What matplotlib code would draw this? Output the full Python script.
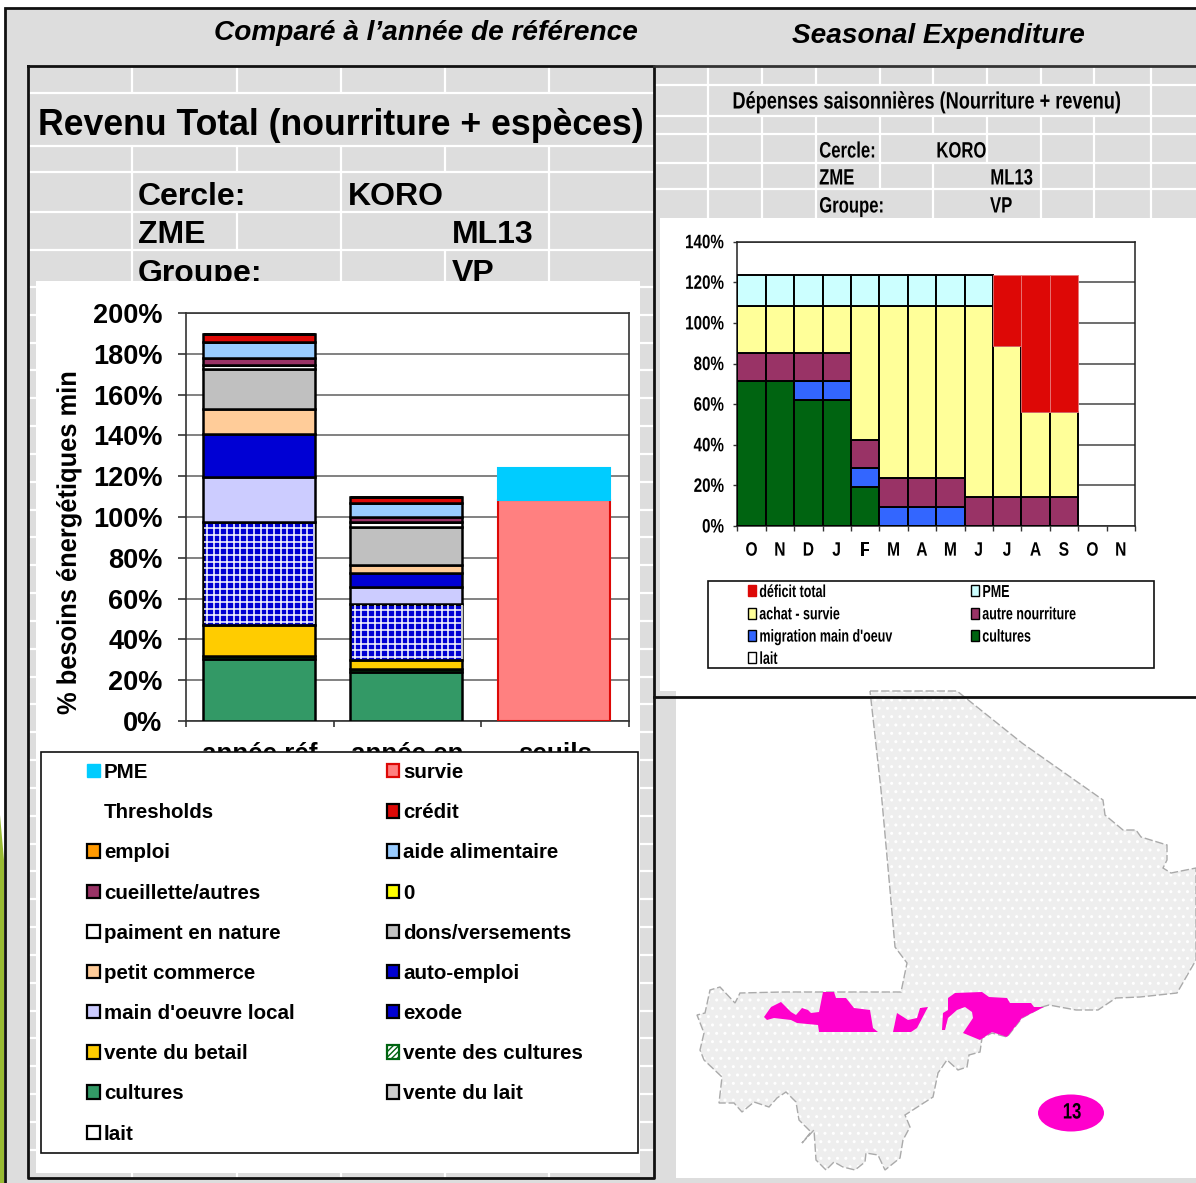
import matplotlib
matplotlib.use('Agg')
import matplotlib.pyplot as plt
import numpy as np
from matplotlib.patches import Polygon, Rectangle, Ellipse, Patch
from matplotlib.patheffects import AbstractPathEffect
from matplotlib.transforms import Affine2D

W, H = 1196, 1183
plt.rcParams['font.family'] = 'Liberation Sans'

# left chart
left_cats = ['année réf', 'année en', 'seuils']
left_series = ['lait', 'vente du lait', 'cultures', 'vente des cultures', 'vente du betail', 'exode',
               "main d'oeuvre local", 'auto-emploi', 'petit commerce', 'dons/versements',
               'paiment en nature', '0', 'cueillette/autres', 'aide alimentaire', 'emploi',
               'crédit', 'Thresholds', 'survie', 'PME']
left_vals = {
    'lait': [0, 0, 0],
    'vente du lait': [0, 0, 0],
    'cultures': [30.5, 24.0, 0],
    'vente des cultures': [1.2, 1.3, 0],
    'vente du betail': [15.3, 4.6, 0],
    'exode': [50.4, 27.5, 0],
    "main d'oeuvre local": [22.4, 8.5, 0],
    'auto-emploi': [20.9, 6.5, 0],
    'petit commerce': [12.1, 3.9, 0],
    'dons/versements': [19.6, 19.0, 0],
    'paiment en nature': [2.0, 2.1, 0],
    '0': [0, 0, 0],
    'cueillette/autres': [3.4, 2.4, 0],
    'aide alimentaire': [7.8, 6.9, 0],
    'emploi': [0, 0, 0],
    'crédit': [4.3, 2.9, 0],
    'Thresholds': [0, 0, 0],
    'survie': [0, 0, 108.3],
    'PME': [0, 0, 15.5],
}
left_colors = {
    'lait': '#FFFFFF', 'vente du lait': '#CCCCCC', 'cultures': '#339966', 'vente des cultures': '#006411',
    'vente du betail': '#FFCC00', 'exode': '#0000D4', "main d'oeuvre local": '#CCCCFF', 'auto-emploi': '#0000D4',
    'petit commerce': '#FFCC99', 'dons/versements': '#C0C0C0', 'paiment en nature': '#FFFFFF', '0': '#FFFF00',
    'cueillette/autres': '#993366', 'aide alimentaire': '#99CCFF', 'emploi': '#FF9900', 'crédit': '#DD0806',
    'Thresholds': 'none', 'survie': '#FF8080', 'PME': '#00CCFF',
}
left_legend_col1 = ['PME', 'Thresholds', 'emploi', 'cueillette/autres', 'paiment en nature', 'petit commerce',
                    "main d'oeuvre local", 'vente du betail', 'cultures', 'lait']
left_legend_col2 = ['survie', 'crédit', 'aide alimentaire', '0', 'dons/versements', 'auto-emploi', 'exode',
                    'vente des cultures', 'vente du lait']

# right chart
months = ['O', 'N', 'D', 'J', 'F', 'M', 'A', 'M', 'J', 'J', 'A', 'S', 'O', 'N']
r_cultures = [71.6, 71.6, 62, 62, 19, 0, 0, 0, 0, 0, 0, 0, 0, 0]
r_migration = [0, 0, 9.6, 9.6, 9.4, 9.5, 9.5, 9.5, 0, 0, 0, 0, 0, 0]
r_autre = [13.4, 13.4, 13.4, 13.4, 13.9, 14.3, 14.3, 14.3, 14.1, 14.1, 14.1, 14.1, 0, 0]
r_achat = [23.3, 23.3, 23.3, 23.3, 66.0, 84.5, 84.5, 84.5, 94.2, 74.5, 41.9, 41.9, 0, 0]
r_pme = [15.3, 15.3, 15.3, 15.3, 15.3, 15.3, 15.3, 15.3, 15.3, 0, 0, 0, 0, 0]
r_deficit = [0, 0, 0, 0, 0, 0, 0, 0, 0, 35.0, 67.6, 67.6, 0, 0]

# map outline, reference pixels
mali_x = [870, 957, 1022, 1103, 1105, 1123, 1136, 1141, 1167, 1167, 1163, 1171, 1196, 1196, 1177, 1140, 1116, 1098,
          1076, 1049, 1042, 1022, 1007, 992, 982, 980, 969, 967, 958, 947, 938, 933, 905, 910, 903, 900, 885, 878,
          866, 865, 855, 843, 834, 826, 816, 814, 802, 811, 799, 796, 786, 777, 769, 754, 742, 734, 719, 722, 704,
          700, 704, 697, 705, 710, 720, 735, 740, 782, 901, 907, 895, 890, 881]
mali_y = [691, 691, 743, 800, 815, 830, 830, 837, 845, 860, 868, 873, 868, 960, 993, 997, 998, 1010, 1010, 1005, 1007,
          1018, 1037, 1033, 1038, 1052, 1055, 1067, 1070, 1060, 1073, 1097, 1115, 1127, 1140, 1158, 1170, 1155, 1153,
          1162, 1170, 1167, 1162, 1170, 1160, 1130, 1143, 1132, 1120, 1102, 1092, 1098, 1107, 1102, 1112, 1103, 1103,
          1077, 1060, 1050, 1033, 1015, 1013, 990, 987, 1003, 993, 992, 992, 963, 947, 890, 790]
zone_a_x = [764, 771, 781, 791, 796, 802, 808, 811, 819, 823, 834, 836, 846, 854, 870, 873, 878, 819, 818, 797, 791, 774, 767]
zone_a_y = [1017, 1007, 1002, 1012, 1015, 1008, 1010, 1013, 1012, 992, 992, 998, 998, 1008, 1010, 1028, 1032, 1032, 1025, 1023, 1020, 1018, 1020]
zone_b_x = [893, 897, 908, 917, 920, 928, 917, 911]
zone_b_y = [1032, 1013, 1020, 1018, 1008, 1007, 1028, 1032]
zone_c_x = [942, 943, 948, 948, 955, 982, 989, 1007, 1010, 1031, 1034, 1044, 1022, 1007, 992, 980, 963, 973, 972, 965, 957, 948, 945]
zone_c_y = [1030, 1013, 1010, 998, 993, 992, 997, 998, 1003, 1003, 1007, 1007, 1018, 1037, 1032, 1040, 1033, 1018, 1012, 1007, 1010, 1018, 1030]


class Squeeze(AbstractPathEffect):
    # narrow the glyphs sideways, the reference text is a stretched picture
    def __init__(self, sx, anchor=0.0):
        super().__init__()
        self.sx = sx
        self.anchor = anchor

    def draw_path(self, renderer, gc, tpath, affine, rgbFace=None):
        e = tpath.get_extents()
        x0 = e.x0 + self.anchor * e.width
        t = Affine2D().translate(-x0, 0).scale(self.sx, 1).translate(x0, 0) + affine
        renderer.draw_path(gc, tpath, t, rgbFace)


fig = plt.figure(figsize=(W / 100, H / 100), dpi=100, facecolor='white')


def pixel_axes(z):
    a = fig.add_axes([0, 0, 1, 1], zorder=z)
    a.set_xlim(0, W)
    a.set_ylim(H, 0)
    a.axis('off')
    a.patch.set_alpha(0)
    return a


def chart_axes(x0, y0, x1, y1):
    return fig.add_axes([x0 / W, 1 - y1 / H, (x1 - x0) / W, (y1 - y0) / H], zorder=0)


bg = pixel_axes(-2)
GRAY = '#DDDDDD'
bg.add_patch(Polygon([(0, 815), (4, 860), (4, 1183), (0, 1183)], color='#99BB33', lw=0))
bg.add_patch(Rectangle((5, 8), W, H, fc=GRAY, ec='#111111', lw=2))


def hl(y, x0, x1):
    bg.plot([x0, x1], [y, y], color='white', lw=1.6, solid_capstyle='butt')


def vl(x, y0, y1):
    bg.plot([x, x], [y0, y1], color='white', lw=1.6, solid_capstyle='butt')


# left sheet cells
for y in [93, 146, 172, 212, 250]:
    hl(y, 28, 654)
for y in np.arange(287, 1160, 27.83):
    hl(y, 28, 654)
for x in [132, 237, 341, 445, 549]:
    vl(x, 66, 93)
    vl(x, 146, 172)
    vl(x, 1172, 1178)
vl(132, 172, 281)
vl(237, 212, 250)
vl(341, 172, 281)
vl(549, 172, 281)
vl(445, 250, 281)

# right sheet cells
for y in [85, 116, 134, 163, 189]:
    hl(y, 654, W)
for x in [708, 762, 816, 880, 933, 987, 1041, 1094, 1151]:
    vl(x, 66, 85)
    vl(x, 116, 134)
for x in [708, 1151]:
    vl(x, 85, 116)
for x in [708, 762, 816, 1041, 1094, 1151]:
    vl(x, 134, 218)
vl(880, 134, 189)
vl(987, 134, 163)
vl(933, 163, 218)

# white panels
bg.add_patch(Rectangle((36, 281), 604, 892, fc='white', ec='none', zorder=3))
bg.add_patch(Rectangle((660, 218), 536, 473, fc='white', ec='none', zorder=3))
bg.add_patch(Rectangle((676, 691), 520, 487, fc='white', ec='none', zorder=3))

# text on the sheets
bg.text(426, 33, 'Comparé à l’année de référence', fontsize=20.2, fontweight='bold', style='italic', ha='center', va='center')
bg.text(938, 36, 'Seasonal Expenditure', fontsize=20.2, fontweight='bold', style='italic', ha='center', va='center')
bg.text(341, 125, 'Revenu Total (nourriture + espèces)', fontsize=25.7, fontweight='bold', ha='center', va='center')
for t, x, y in [('Cercle:', 138, 197), ('KORO', 348, 197), ('ZME', 138, 235), ('ML13', 452, 235), ('Groupe:', 138, 274), ('VP', 452, 274)]:
    bg.text(x, y, t, fontsize=23, fontweight='bold', ha='left', va='center', zorder=2)
bg.text(927, 102, 'Dépenses saisonnières (Nourriture + revenu)', fontsize=17, fontweight='bold', ha='center', va='center',
        path_effects=[Squeeze(0.77, 0.5)])
for t, x, y in [('Cercle:', 819, 152), ('KORO', 936, 152), ('ZME', 819, 179), ('ML13', 990, 179), ('Groupe:', 819, 207), ('VP', 990, 207)]:
    bg.text(x, y, t, fontsize=16, fontweight='bold', ha='left', va='center', path_effects=[Squeeze(0.75)])

# map
mali_xy = np.column_stack([mali_x, mali_y])
bg.add_patch(Polygon(mali_xy, fc='#EEEEEE', ec='white', hatch='..', lw=0, zorder=4))
bg.add_patch(Polygon(mali_xy, fc='none', ec='#AAAAAA', lw=1, ls=(0, (6, 2)), zorder=5))
for zx, zy in [(zone_a_x, zone_a_y), (zone_b_x, zone_b_y), (zone_c_x, zone_c_y)]:
    bg.add_patch(Polygon(np.column_stack([zx, zy]), fc='#FF00CC', ec='none', zorder=6))
bg.add_patch(Ellipse((1071, 1113), 66, 37, fc='#FF00CC', ec='none', zorder=6))
bg.text(1072, 1113, '13', fontsize=16, fontweight='bold', ha='center', va='center', zorder=7, path_effects=[Squeeze(0.75, 0.5)])

# left stacked chart
ax = chart_axes(186, 313, 629, 721)
ax.set_xlim(-0.5, 2.5)
ax.set_ylim(0, 200)
ax.set_yticks(range(0, 201, 20))
ax.set_yticklabels(['%d%%' % v for v in range(0, 201, 20)], fontsize=19.5, fontweight='bold')
ax.set_xticks([0, 1, 2])
ax.set_xticklabels(left_cats, fontsize=18.7, fontweight='bold')
ax.tick_params(axis='x', length=0, pad=15)
ax.tick_params(axis='y', length=6, width=1.3, color='#444444', pad=11)
ax.set_xticks([-0.5, 0.5, 1.5, 2.5], minor=True)
ax.tick_params(axis='x', which='minor', length=4, width=1.3, color='#444444')
ax.grid(axis='y', color='#777777', lw=1.3)
ax.set_axisbelow(True)
for s in ax.spines.values():
    s.set_color('#333333')
    s.set_linewidth(1.2)
ax.set_ylabel('% besoins énergétiques min', fontsize=19.5, fontweight='bold', path_effects=[Squeeze(0.94, 0.5)])
ax.yaxis.set_label_coords(-0.235, 0.436)
xpos = np.arange(3) - 0.008
bw = 0.76
bottom = np.zeros(3)
for name in left_series:
    vals = np.array(left_vals[name], dtype=float)
    c = left_colors[name]
    for i in range(2):
        if name == 'Thresholds':
            continue
        ax.bar(xpos[i], vals[i], bw, bottom=bottom[i], color=c, edgecolor='black', lw=1.8, zorder=3)
        if name == 'exode':
            # white lattice over the blue, about 6.7 px pitch
            x0, x1 = xpos[i] - bw / 2, xpos[i] + bw / 2
            y0, y1 = bottom[i], bottom[i] + vals[i]
            ax.vlines(np.arange(x0 + 0.03, x1, 6.7 / 147.7), y0 + 0.6, y1 - 0.6, color='white', lw=1.1, zorder=3.1)
            ax.hlines(np.arange(y0 + 1.5, y1, 6.7 / 2.04), x0 + 0.01, x1 - 0.01, color='white', lw=1.1, zorder=3.1)
    if vals[2] > 0:
        edge = '#DD0806' if name == 'survie' else c
        ax.bar(xpos[2], vals[2], bw, bottom=bottom[2], color=c, edgecolor=edge, lw=1.5, zorder=3)
    bottom += vals

ov = pixel_axes(1)
ov.add_patch(Rectangle((41, 752), 597, 401, fc='white', ec='#111111', lw=1.2))
ov.add_patch(Rectangle((708, 581), 446, 87, fc='none', ec='#111111', lw=1.2))

# left legend
for col, x in [(left_legend_col1, 87), (left_legend_col2, 386.5)]:
    hs = []
    for n in col:
        c = left_colors[n]
        if n == 'Thresholds':
            hs.append(Patch(fc='none', ec='none'))
        elif n == 'PME':
            hs.append(Patch(fc=c, ec=c))
        elif n == 'survie':
            hs.append(Patch(fc=c, ec='#DD0806', lw=1.6))
        elif n == 'vente des cultures':
            hs.append(Patch(fc='white', ec='#006411', hatch='//////', lw=1.6))
        else:
            hs.append(Patch(fc=c, ec='black', lw=1.6))
    fig.legend(hs, col, loc='upper left', bbox_to_anchor=(x / W, 1 - 763 / H), frameon=False, borderpad=0,
               borderaxespad=0, prop={'weight': 'bold', 'size': 14.8},
               handlelength=0.62, handleheight=0.62, handletextpad=0.2, labelspacing=1.03)

# right chart
rx = chart_axes(737.3, 241.7, 1135, 526)
rx.set_xlim(-0.5, 13.5)
rx.set_ylim(0, 140)
rx.set_yticks(range(0, 141, 20))
rx.set_yticklabels(['%d%%' % v for v in range(0, 141, 20)], fontsize=14, fontweight='bold')
for t in rx.get_yticklabels():
    t.set_path_effects([Squeeze(0.78, 1.0)])
rx.set_xticks(range(14))
rx.set_xticklabels(months, fontsize=14, fontweight='bold')
for t in rx.get_xticklabels():
    t.set_path_effects([Squeeze(0.8, 0.5)])
rx.tick_params(axis='x', length=0, pad=12)
rx.set_xticks(np.arange(-0.5, 14), minor=True)
rx.tick_params(axis='x', which='minor', length=3.5, width=1, color='#333333')
rx.tick_params(axis='y', length=3, width=1, color='#333333', pad=6.5)
rx.grid(axis='y', color='#555555', lw=1.2)
rx.set_axisbelow(True)
for k, s in rx.spines.items():
    s.set_color('#222222')
    s.set_linewidth(1.1)
x14 = np.arange(14)
base = np.zeros(14)
right_parts = [(r_cultures, '#006411', 'cultures'), (r_migration, '#3366FF', "migration main d'oeuv"),
               (r_autre, '#993366', 'autre nourriture'), (r_achat, '#FFFF99', 'achat - survie'),
               (r_pme, '#CCFFFF', 'PME'), (r_deficit, '#DD0806', 'déficit total')]
for vals, c, lab in right_parts:
    vals = np.array(vals, dtype=float)
    m = vals > 0
    if lab == 'déficit total':
        rx.bar(x14[m], vals[m], 1.0, bottom=base[m], color=c, edgecolor='#E87878', lw=0.6, zorder=3)
    else:
        rx.bar(x14[m], vals[m], 1.0, bottom=base[m], color=c, edgecolor='black', lw=1.4, zorder=3)
    base += vals

rc = dict((lab, c) for _, c, lab in right_parts)
rcol1 = ['déficit total', 'achat - survie', "migration main d'oeuv", 'lait']
rcol2 = ['PME', 'autre nourriture', 'cultures']
rc['lait'] = '#FFFFFF'
for col, x in [(rcol1, 748), (rcol2, 971)]:
    hs = [Patch(fc=rc[n], ec=(rc[n] if n == 'déficit total' else 'black'), lw=1) for n in col]
    leg = fig.legend(hs, col, loc='upper left', bbox_to_anchor=(x / W, 1 - 585 / H), frameon=False, borderpad=0, borderaxespad=0,
                     prop={'weight': 'bold', 'size': 12.5}, handlelength=0.44, handleheight=0.6,
                     handletextpad=0.2, labelspacing=0.42)
    for t in leg.get_texts():
        t.set_path_effects([Squeeze(0.72)])

# sheet borders, on top
ov.plot([28, 654, 654, 28, 28], [66, 66, 1178, 1178, 66], color='#111111', lw=2, clip_on=False)
ov.plot([654, W], [66, 66], color='#333333', lw=2)
ov.plot([654, W], [696.5, 696.5], color='#111111', lw=2)

fig.savefig('out.png', dpi=100, facecolor='white')
